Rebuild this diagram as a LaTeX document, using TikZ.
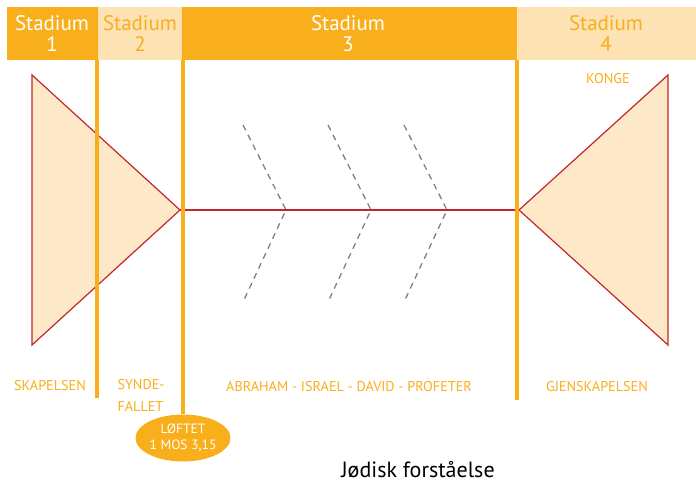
\documentclass[tikz,border=0pt]{standalone}
\usepackage{fontspec}
\setmainfont{PT Sans}
\usetikzlibrary{shapes.geometric}
\definecolor{oransje}{HTML}{F9AE1B}
\definecolor{lysoransje}{HTML}{FDE2B4}
\definecolor{trekant}{HTML}{FDE8C8}
\definecolor{rod}{HTML}{C1272D}
\definecolor{stiplet}{HTML}{808080}

\begin{document}
\begin{tikzpicture}[x=1pt,y=-1pt,
	stadium/.style={font=\fontsize{21}{21}\selectfont, align=center},
	etikett/.style={text=oransje, font=\fontsize{14.2}{22}\selectfont},
	skille/.style={oransje, line width=4pt},
	pil/.style={stiplet, line width=1.3pt, dash pattern=on 6pt off 5pt}]
	\useasboundingbox (0,0) rectangle (696,486);
	% topplinje
	\fill[oransje] (7,7) rectangle (98,60);
	\fill[lysoransje] (98,7) rectangle (182,60);
	\fill[oransje] (182,7) rectangle (517,60);
	\fill[lysoransje] (517,7) rectangle (696,60);
	\node[stadium, text=white] (st1) at (52,34) {Stadium\\1};
	\node[stadium, text=oransje] (st2) at (140,34) {Stadium\\2};
	\node[stadium, text=white] (st3) at (348,34) {Stadium\\3};
	\node[stadium, text=oransje] (st4) at (606,34) {Stadium\\4};
	% trekanter og linje
	\draw[rod, fill=trekant, line width=1.2pt] (32,75) -- (32,345) -- (180,210) coordinate (venstre) -- cycle;
	\draw[rod, fill=trekant, line width=1.2pt] (668,75) -- (668,345) -- (519,210) coordinate (hoyre) -- cycle;
	\draw[rod, line width=1.5pt] (venstre) -- (hoyre);
	% piler
	\foreach \x in {286,371,447}
		\draw[pil] (\x-43,125) -- (\x,210) -- (\x-43,302);
	% skillelinjer
	\node[ellipse, fill=oransje, text=white, minimum width=95pt, minimum height=47pt, inner sep=0pt,
		align=center, font=\fontsize{13.5}{16}\selectfont] (loftet) at (183,438) {LØFTET\\1 MOS 3,15};
	\draw[skille] (97,60) -- (97,398);
	\draw[skille] (183,60) -- (loftet.north);
	\draw[skille] (517,60) -- (517,400);
	% tekster
	\node[etikett] (skap) at (50,386) {SKAPELSEN};
	\node[etikett, align=left, anchor=north west] (synde) at (114,376) {SYNDE-\\FALLET};
	\node[etikett] (abraham) at (349,387) {ABRAHAM - ISRAEL - DAVID - PROFETER};
	\node[etikett] (gjen) at (597,387) {GJENSKAPELSEN};
	\node[etikett] (konge) at (608,79) {KONGE};
	\node[font=\fontsize{22}{22}\selectfont] (tittel) at (418,470) {Jødisk forståelse};
\end{tikzpicture}
\end{document}
